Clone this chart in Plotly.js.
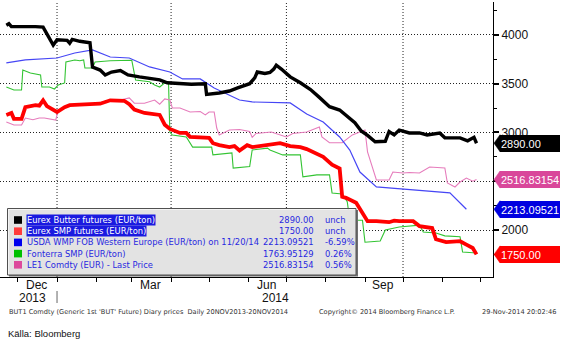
<!DOCTYPE html>
<html><head><meta charset="utf-8">
<script src="https://cdn.plot.ly/plotly-3.0.1.min.js"></script>
<style>html,body{margin:0;padding:0;background:#fff}#chart{width:565px;height:341px}</style>
</head><body><div id="chart"></div>
<script>
// ---------- DATA ----------
const butterDates = ['2013-11-22','2013-11-24','2013-11-26','2013-12-07','2013-12-15','2013-12-21','2013-12-25','2013-12-29','2014-01-01','2014-01-09','2014-01-11','2014-01-13','2014-01-19','2014-01-27','2014-01-29','2014-02-04','2014-02-08','2014-02-13','2014-02-20','2014-02-26','2014-03-07','2014-03-15','2014-03-23','2014-03-29','2014-04-08','2014-04-17','2014-04-28','2014-04-29','2014-05-09','2014-05-17','2014-05-23','2014-05-28','2014-06-02','2014-06-06','2014-06-08','2014-06-14','2014-06-18','2014-06-21','2014-06-23','2014-06-27','2014-07-04','2014-07-12','2014-07-20','2014-07-27','2014-08-04','2014-08-12','2014-08-18','2014-08-24','2014-08-29','2014-09-03','2014-09-09','2014-09-17','2014-09-20','2014-09-24','2014-09-28','2014-10-06','2014-10-14','2014-10-20','2014-10-30','2014-11-03','2014-11-15','2014-11-21','2014-11-26','2014-11-28'];
const butterValues = [4100,4115,4085,4090,4085,4080,3990,3895,3950,3945,3915,3955,3935,3920,3670,3640,3590,3620,3635,3590,3570,3555,3540,3510,3500,3495,3500,3390,3405,3425,3455,3480,3500,3560,3620,3605,3615,3650,3690,3650,3570,3510,3440,3360,3265,3230,3160,3100,3015,2970,2905,2910,3010,2975,3025,2995,2995,2975,2995,2945,2945,2915,2950,2890];

const smpDates = ['2013-11-22','2013-11-26','2013-11-28','2013-12-04','2013-12-07','2013-12-15','2013-12-18','2013-12-21','2013-12-24','2014-01-01','2014-01-07','2014-01-11','2014-01-27','2014-02-04','2014-02-12','2014-02-23','2014-02-27','2014-03-03','2014-03-11','2014-03-23','2014-03-27','2014-03-31','2014-04-08','2014-04-13','2014-04-16','2014-05-01','2014-05-04','2014-05-09','2014-05-17','2014-05-21','2014-05-25','2014-05-31','2014-06-04','2014-06-10','2014-06-18','2014-06-26','2014-07-04','2014-07-12','2014-07-17','2014-07-23','2014-07-30','2014-08-06','2014-08-12','2014-08-14','2014-08-17','2014-08-25','2014-08-30','2014-09-03','2014-09-10','2014-09-20','2014-09-24','2014-09-28','2014-10-09','2014-10-14','2014-10-24','2014-10-27','2014-11-04','2014-11-15','2014-11-20','2014-11-24','2014-11-25','2014-11-28'];
const smpValues = [3180,3200,3140,3140,3260,3280,3275,3330,3270,3210,3260,3280,3290,3295,3330,3325,3290,3235,3200,3180,3080,3036,2995,2995,2955,2945,2890,2870,2850,2860,2815,2870,2850,2860,2870,2890,2860,2850,2830,2790,2750,2670,2630,2340,2330,2280,2180,2090,2090,2080,2095,2090,2090,2040,2020,1905,1875,1885,1850,1830,1815,1750];

const wmpDates = ['2013-11-22','2013-12-07','2014-01-01','2014-01-15','2014-01-29','2014-02-12','2014-02-27','2014-03-15','2014-03-31','2014-04-10','2014-04-24','2014-05-05','2014-05-25','2014-06-04','2014-07-04','2014-07-17','2014-07-30','2014-08-12','2014-08-20','2014-08-28','2014-09-10','2014-11-07','2014-11-20'];
const wmpValues = [3713,3744,3764,3815,3846,3774,3764,3672,3620,3549,3549,3456,3333,3313,3303,3190,3107,2954,2820,2594,2442,2380,2213.09521];

const fonterraDates = ['2013-11-22','2013-11-28','2013-12-04','2013-12-05','2013-12-11','2013-12-19','2013-12-20','2013-12-26','2013-12-30','2014-01-02','2014-01-07','2014-01-08','2014-01-15','2014-01-19','2014-01-22','2014-01-23','2014-01-29','2014-01-31','2014-02-12','2014-03-01','2014-03-04','2014-03-15','2014-03-19','2014-03-23','2014-03-27','2014-03-30','2014-03-31','2014-04-02','2014-04-13','2014-04-18','2014-05-03','2014-05-04','2014-05-19','2014-05-20','2014-06-02','2014-06-04','2014-06-16','2014-06-18','2014-06-28','2014-07-12','2014-07-14','2014-07-25','2014-08-04','2014-08-06','2014-08-14','2014-08-18','2014-08-20','2014-08-30','2014-09-01','2014-09-13','2014-09-17','2014-09-28','2014-10-14','2014-10-17','2014-10-27','2014-11-03','2014-11-15','2014-11-17','2014-11-28'];
const fonterraValues = [3466,3436,3436,3640,3610,3590,3466,3466,3446,3487,3508,3723,3743,3735,3743,3661,3661,3723,3735,3740,3538,3520,3487,3466,3508,3500,3005,2974,2954,2850,2850,2770,2790,2635,2650,2820,2840,2820,2770,2770,2545,2565,2565,2380,2370,2290,2100,2100,1875,1887,2000,2030,2050,1980,1970,1940,1930,1775,1763.95129];

const le1Dates = ['2013-11-22','2013-11-28','2013-12-04','2013-12-07','2013-12-13','2013-12-18','2013-12-22','2013-12-26','2013-12-31','2014-01-02','2014-01-07','2014-01-11','2014-01-19','2014-01-31','2014-02-12','2014-02-20','2014-02-27','2014-03-03','2014-03-11','2014-03-19','2014-03-23','2014-03-27','2014-03-31','2014-04-02','2014-04-08','2014-04-16','2014-04-24','2014-04-28','2014-05-01','2014-05-05','2014-05-07','2014-05-09','2014-05-17','2014-05-25','2014-06-02','2014-06-04','2014-06-07','2014-06-19','2014-07-01','2014-07-06','2014-07-17','2014-07-27','2014-07-29','2014-08-04','2014-08-14','2014-08-22','2014-09-01','2014-09-03','2014-09-05','2014-09-10','2014-09-20','2014-09-23','2014-10-01','2014-10-06','2014-10-14','2014-10-22','2014-11-03','2014-11-05','2014-11-11','2014-11-15','2014-11-20','2014-11-25','2014-11-28'];
const le1Values = [3107,3077,3077,3148,3130,3148,3148,3140,3128,3230,3250,3282,3282,3292,3333,3333,3354,3300,3300,3333,3290,3344,3333,3251,3251,3210,3215,3180,3210,3210,3046,2974,3025,3030,3010,2950,2990,3005,2954,2990,3005,3056,2954,2895,2895,2975,3025,2800,2720,2513,2513,2595,2585,2590,2585,2646,2636,2482,2441,2492,2533,2500,2516.83154];

const seriesNames = ['Eurex Butter futures (EUR/ton)','Eurex SMP futures (EUR/ton)','USDA WMP FOB Western Europe (EUR/ton) on 11/20/14','Fonterra SMP (EUR/ton)','LE1 Comdty (EUR) - Last Price'];
const seriesChange = ['unch','unch','-6.59%','0.26%','0.56%'];
const seriesDecimals = [2,2,5,5,5];

const monthStarts = ['2013-12-01','2014-01-01','2014-02-01','2014-03-01','2014-04-01','2014-05-01','2014-06-01','2014-07-01','2014-08-01','2014-09-01','2014-10-01','2014-11-01','2014-12-01'];
const quarterStarts = ['2014-01-01','2014-04-01','2014-07-01','2014-10-01'];
const monthLabels = ['Dec','Mar','Jun','Sep'];
const monthLabelDates = ['2013-12-16','2014-03-16','2014-06-15','2014-09-15'];
const yearLabels = ['2013','2014'];

const footerLeft = "BUT1 Comdty (Generic 1st 'BUT' Future) Diary prices  Daily 20NOV2013-20NOV2014";
const footerMid = 'Copyright\u00A9 2014 Bloomberg Finance L.P.';
const footerRight = '29-Nov-2014 20:02:46';
const sourceText = 'K\u00E4lla: Bloomberg';

// ---------- LAYOUT HELPERS ----------
const W=565,H=341,ML=0,MR=72,MT=2,MB=64;
const PW=W-ML-MR, PH=H-MT-MB;
const YR=[1518,4338];
const upp=(YR[1]-YR[0])/PH;
const xp = px => (px-ML)/PW;
const yp = py => (H-MB-py)/PH;

const series = [
  {x:butterDates, y:butterValues, color:'#000000', w:3.4, leg:'#000000', tag:'#000000', tagText:'#ffffff', hl:true},
  {x:smpDates, y:smpValues, color:'#ff0000', w:3.8, leg:'#ff3b3b', tag:'#ff0000', tagText:'#ffffff', hl:true},
  {x:wmpDates, y:wmpValues, color:'#4646f5', w:1.2, leg:'#0000ee', tag:'#0000e0', tagText:'#ffffff', hl:false},
  {x:fonterraDates, y:fonterraValues, color:'#33c433', w:1.1, leg:'#00c000', tag:null, hl:false},
  {x:le1Dates, y:le1Values, color:'#e67cbc', w:1.1, leg:'#dd4a9c', tag:'#d9479a', tagText:'#ffffff', hl:false}
];
const drawOrder=[3,4,2,1,0];

const traces = drawOrder.map(i=>({
  type:'scatter', mode:'lines', x:series[i].x, y:series[i].y,
  line:{color:series[i].color, width:series[i].w, shape:'linear'},
  hoverinfo:'skip', showlegend:false
}));

const shapes=[];
const annotations=[];
const FONT='Liberation Sans, Arial, sans-serif';
const LFONT='DejaVu Sans, Verdana, sans-serif';

// vertical dotted gridlines
quarterStarts.forEach(d=>shapes.push({type:'line', xref:'x', yref:'paper', x0:d, x1:d, y0:0, y1:1, layer:'below', line:{color:'#222', width:1, dash:'1px,2px'}}));
// year separator
shapes.push({type:'line', xref:'x', yref:'paper', x0:quarterStarts[0], x1:quarterStarts[0], y0:yp(291), y1:yp(303), line:{color:'#666', width:1}});

// month and year labels
monthLabels.forEach((t,i)=>annotations.push({text:t, xref:'x', yref:'paper', x:monthLabelDates[i], y:yp(285), xanchor:'center', yanchor:'middle', showarrow:false, font:{family:FONT, size:12, color:'#111'}}));
annotations.push({text:yearLabels[0], xref:'paper', yref:'paper', x:xp(32), y:yp(298), xanchor:'center', yanchor:'middle', showarrow:false, font:{family:FONT, size:12, color:'#111'}});
annotations.push({text:yearLabels[1], xref:'paper', yref:'paper', x:xp(275), y:yp(298), xanchor:'center', yanchor:'middle', showarrow:false, font:{family:FONT, size:12, color:'#111'}});

// legend box
shapes.push({type:'rect', xref:'paper', yref:'paper', x0:xp(9), x1:xp(358), y0:yp(210), y1:yp(276.5), layer:'above', fillcolor:'#707070', line:{width:0}});
shapes.push({type:'rect', xref:'paper', yref:'paper', x0:xp(7.5), x1:xp(356), y0:yp(208.5), y1:yp(275), layer:'above', fillcolor:'rgba(242,242,242,0.88)', line:{color:'#505050', width:1}});
series.forEach((s,i)=>{
  const cy=220+i*11.2;
  shapes.push({type:'rect', xref:'paper', yref:'paper', x0:xp(14), x1:xp(22), y0:yp(cy-3.8), y1:yp(cy+3.8), layer:'above', fillcolor:s.leg, line:{width:0}});
  annotations.push({text:seriesNames[i], xref:'paper', yref:'paper', x:xp(26), y:yp(cy), xanchor:'left', yanchor:'middle', showarrow:false,
    bgcolor:s.hl?'#1a1ae0':'rgba(0,0,0,0)', borderpad:0, font:{family:LFONT, size:8.4, color:s.hl?'#ffffff':'#2828e0'}});
  const last=s.y[s.y.length-1];
  annotations.push({text:last.toFixed(seriesDecimals[i]), xref:'paper', yref:'paper', x:xp(315.5), y:yp(cy), xanchor:'right', yanchor:'middle', showarrow:false, font:{family:LFONT, size:8.4, color:'#2828e0'}});
  annotations.push({text:seriesChange[i], xref:'paper', yref:'paper', x:xp(322.5), y:yp(cy), xanchor:'left', yanchor:'middle', showarrow:false, font:{family:LFONT, size:8.4, color:'#2828e0'}});
});

// right-hand value tags: pointer shape + boxed annotation (covers axis labels)
series.forEach((s,i)=>{
  if(!s.tag) return;
  const v=s.y[s.y.length-1];
  const hh=8.5*upp;
  const a=xp(494), b=xp(500);
  shapes.push({type:'path', xref:'paper', yref:'y', layer:'above',
    path:`M${a},${v} L${b},${v+hh} L${b},${v-hh} Z`,
    fillcolor:s.tag, line:{color:s.tag, width:0.5}});
  annotations.push({text:v.toFixed(seriesDecimals[i]), xref:'paper', yref:'y', x:xp(499.5), y:v, xanchor:'left', yanchor:'middle', showarrow:false,
    width:58, height:15, align:'left', borderpad:1, borderwidth:0, bgcolor:s.tag,
    font:{family:FONT, size:11, color:s.tagText}});
});

// footer
annotations.push({text:footerLeft, xref:'paper', yref:'paper', x:xp(7), y:yp(312), xanchor:'left', yanchor:'middle', showarrow:false, font:{family:LFONT, size:6.6, color:'#333'}});
annotations.push({text:footerMid, xref:'paper', yref:'paper', x:xp(317), y:yp(312), xanchor:'left', yanchor:'middle', showarrow:false, font:{family:LFONT, size:6.6, color:'#333'}});
annotations.push({text:footerRight, xref:'paper', yref:'paper', x:xp(558), y:yp(312), xanchor:'right', yanchor:'middle', showarrow:false, font:{family:LFONT, size:6.6, color:'#333'}});
annotations.push({text:sourceText, xref:'paper', yref:'paper', x:xp(6), y:yp(333), xanchor:'left', yanchor:'middle', showarrow:false, font:{family:FONT, size:9.5, color:'#111'}});

const layout = {
  width:W, height:H, margin:{l:ML, r:MR, t:MT, b:MB, pad:0},
  paper_bgcolor:'#ffffff', plot_bgcolor:'#ffffff',
  showlegend:false,
  xaxis:{type:'date', range:['2013-11-17','2014-12-11'], tickmode:'array', tickvals:monthStarts, ticktext:monthStarts.map(()=>''),
    ticks:'outside', ticklen:4, tickcolor:'#000', tickwidth:1, showgrid:false, zeroline:false,
    showline:true, linecolor:'#000', linewidth:1, fixedrange:true},
  yaxis:{side:'right', range:YR, tickmode:'linear', tick0:0, dtick:500,
    showgrid:true, gridcolor:'#222', griddash:'1px,2px', gridwidth:1,
    ticks:'outside', ticklen:5, tickwidth:2, tickcolor:'#000',
    minor:{dtick:250, tick0:0, ticks:'outside', ticklen:3, tickwidth:1, tickcolor:'#000', showgrid:false},
    showline:true, linecolor:'#000', linewidth:1, zeroline:false,
    tickfont:{family:FONT, size:12, color:'#111'}, fixedrange:true},
  shapes:shapes, annotations:annotations
};

Plotly.newPlot('chart', traces, layout, {staticPlot:true, displayModeBar:false});
</script>
</body></html>
